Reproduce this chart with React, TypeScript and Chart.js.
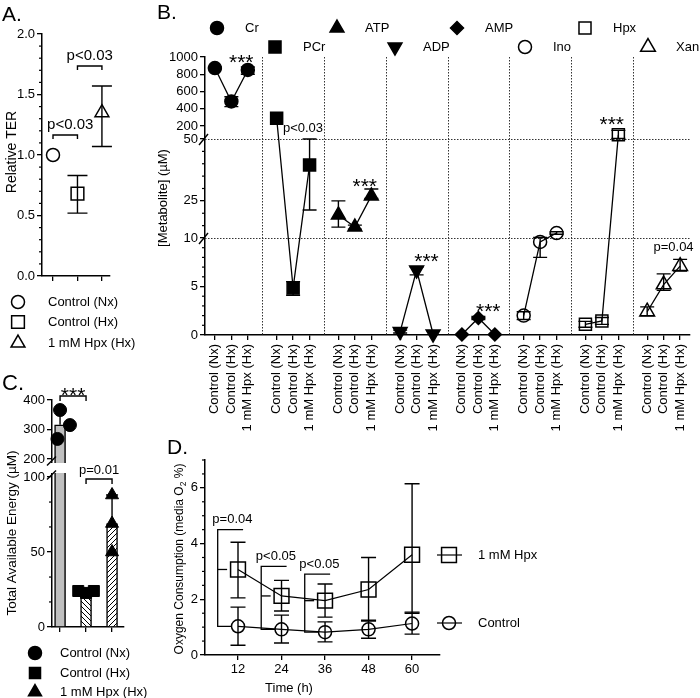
import React, { useEffect, useRef } from 'react';
import { Chart, registerables } from 'chart.js';
import { drawPoint } from 'chart.js/helpers';

Chart.register(...registerables);

const FONT = "'Liberation Sans', Arial, Helvetica, sans-serif";
Chart.defaults.font.family = FONT;
Chart.defaults.color = '#000';

const CW = 700;
const CH = 698;

// ================= DATA =================
// Panel A – relative TER
const A_GROUPS = ['Control (Nx)', 'Control (Hx)', '1 mM Hpx (Hx)'];
const A_MEAN = [1.0, 0.68, 1.35];
const A_LOW = [1.0, 0.52, 1.07];
const A_HIGH = [1.0, 0.83, 1.57];
const A_YTICKS = [0, 0.5, 1.0, 1.5, 2.0];
const A_YMINOR = [0.1, 0.2, 0.3, 0.4, 0.6, 0.7, 0.8, 0.9, 1.1, 1.2, 1.3, 1.4, 1.6, 1.7, 1.8, 1.9];
const A_SIG_TEXT = ['p<0.03', 'p<0.03'];
const A_SIG_PAIRS = [[0, 1], [1, 2]];
const A_SIG_LEVEL = [1.165, 1.735];

// Panel B – metabolites
const B_METABOLITES = ['Cr', 'PCr', 'ATP', 'ADP', 'AMP', 'Ino', 'Hpx', 'Xan'];
const B_CONDITIONS = ['Control (Nx)', 'Control (Hx)', '1 mM Hpx (Hx)'];
const B_MEAN = [
  [872, 485, 850],
  [290, 4.85, 39.5],
  [19.3, 14.4, 27.0],
  [0.35, 6.7, 0.1],
  [0.05, 1.75, 0.05],
  [2.0, 9.6, 12.0],
  [1.1, 1.45, 100],
  [2.4, 5.2, 7.1],
];
const B_LOW = [
  [860, 425, 800],
  [285, 4.1, 21.3],
  [14.4, 13.6, 26.0],
  [0.2, 6.2, 0.05],
  [0.02, 1.6, 0.02],
  [1.6, 8.0, 11.5],
  [0.8, 1.1, 55],
  [2.0, 4.6, 6.6],
];
const B_HIGH = [
  [885, 540, 885],
  [295, 5.5, 50],
  [25.0, 15.2, 29.8],
  [0.5, 7.0, 0.15],
  [0.08, 1.9, 0.08],
  [2.4, 10.2, 12.5],
  [1.4, 1.8, 150],
  [2.9, 6.3, 7.8],
];
const B_YTICKS = [0, 5, 10, 25, 50, 200, 400, 600, 800, 1000];
const B_YMINOR = [1, 2, 3, 4, 6, 7, 8, 9, 15, 20, 30, 35, 40, 45];
const B_SIG_TEXT = ['***', 'p<0.03', '***', '***', '***', '', '***', 'p=0.04'];

// Panel C – total available energy
const C_GROUPS = ['Control (Nx)', 'Control (Hx)', '1 mM Hpx (Hx)'];
const C_MEAN = [316, 23.6, 69];
const C_SD_HIGH = [366, 24.5, 88];
const C_NX_POINTS = [366, 315, 268];
const C_HX_POINTS = [24.0, 22.7, 24.0];
const C_HPX_POINTS = [88, 69, 50];
const C_YTICKS = [0, 50, 100, 200, 300, 400];
const C_YMINOR = [16.7, 33.3, 66.7, 83.3];
const C_SIG_TEXT = ['***', 'p=0.01'];
const C_SIG_PAIRS = [[0, 1], [1, 2]];

// Panel D – oxygen consumption
const D_SERIES = ['1 mM Hpx', 'Control'];
const D_TIMES = [12, 24, 36, 48, 60];
const D_HPX_MEAN = [3.07, 2.12, 1.95, 2.35, 3.6];
const D_HPX_LOW = [2.05, 1.58, 1.36, 1.22, 1.5];
const D_HPX_HIGH = [4.05, 2.68, 2.55, 3.5, 6.15];
const D_CTL_MEAN = [1.03, 0.92, 0.82, 0.92, 1.13];
const D_CTL_LOW = [0.35, 0.43, 0.47, 0.6, 0.75];
const D_CTL_HIGH = [1.72, 1.43, 1.19, 1.25, 1.54];
const D_YTICKS = [0, 2, 4, 6];
const D_YMINOR = [0.5, 1, 1.5, 2.5, 3, 3.5, 4.5, 5, 5.5, 6.5, 7];
const D_SIG_TIMES = [12, 24, 36];
const D_SIG_TEXT = ['p=0.04', 'p<0.05', 'p<0.05'];

// ================= LAYOUT HELPERS =================
// broken-axis display transforms
const bDisp = (v: number) => (v <= 10 ? v * 9.7 : v <= 50 ? 97 + (v - 10) * 2.475 : 196 + (v - 50) * (82 / 950));
const cDisp = (v: number) => (v <= 100 ? v * 1.5 : v < 200 ? 150 + (v - 100) * 0.18 : 168 + (v - 200) * 0.295);

const B_STEP = 3.75;
const B_LEG_X = [217, 275, 337, 395, 457, 525, 585, 648];
const B_SIG_Y = [278, 207, 154, 79, 29, 0, 216, 88];
const B_MARKS = [
  { s: 'circle', r: 6.5, f: true, rot: 0 },
  { s: 'rect', r: 8.5, f: true, rot: 0 },
  { s: 'triangle', r: 8, f: true, rot: 0 },
  { s: 'triangle', r: 8, f: true, rot: 180 },
  { s: 'rectRot', r: 6.5, f: true, rot: 0 },
  { s: 'circle', r: 6.5, f: false, rot: 0 },
  { s: 'rect', r: 8.5, f: false, rot: 0 },
  { s: 'triangle', r: 8.5, f: false, rot: 0 },
];

const COMMON: any = {
  responsive: false,
  animation: false,
  devicePixelRatio: 1,
  events: [],
  plugins: { legend: { display: false }, tooltip: { enabled: false }, title: { display: false } },
};

function layoutFor(a: any, yW: number, xH: number) {
  return { padding: { left: a.l - yW, top: a.t, right: CW - a.r, bottom: CH - a.b - xH } };
}
function fixW(w: number) {
  return (s: any) => {
    s.width = w;
    s.paddingTop = 0; s.paddingBottom = 0; s.paddingLeft = 0; s.paddingRight = 0;
  };
}
function fixH(h: number) {
  return (s: any) => {
    s.height = h;
    s.paddingTop = 0; s.paddingBottom = 0; s.paddingLeft = 0; s.paddingRight = 0;
  };
}
function gridOpts() {
  return { display: true, drawOnChartArea: false, drawTicks: true, offset: false, tickLength: 5, color: '#000', tickColor: '#000', tickWidth: 1.3, lineWidth: 1.3 };
}
function borderOpts() {
  return { display: true, color: '#000', width: 1.5 };
}
function yAxis(min: number, max: number, vals: number[], labels: string[], w: number) {
  return {
    type: 'linear', min, max, position: 'left',
    afterBuildTicks: (s: any) => { s.ticks = vals.map((v) => ({ value: v })); },
    afterFit: fixW(w),
    grid: gridOpts(),
    border: borderOpts(),
    ticks: { autoSkip: false, color: '#000', padding: 2, font: { family: FONT, size: 13 }, callback: (_v: any, i: number) => labels[i] ?? '' },
  };
}
function xAxis(min: number, max: number, vals: number[], labels: string[], h: number, rot = 0, pad = 2) {
  return {
    type: 'linear', min, max, position: 'bottom', offset: false,
    afterBuildTicks: (s: any) => { s.ticks = vals.map((v) => ({ value: v })); },
    afterFit: fixH(h),
    grid: gridOpts(),
    border: borderOpts(),
    ticks: { autoSkip: false, color: '#000', padding: pad, minRotation: rot, maxRotation: rot, font: { family: FONT, size: 13 }, callback: (_v: any, i: number) => labels[i] ?? '' },
  };
}

function text(ctx: any, s: string, x: number, y: number, size = 13, align = 'left', baseline = 'middle', rot = 0) {
  ctx.save();
  ctx.font = `${size}px ${FONT}`;
  ctx.fillStyle = '#000';
  ctx.textAlign = align;
  ctx.textBaseline = baseline;
  ctx.translate(x, y);
  if (rot) ctx.rotate(rot);
  ctx.fillText(s, 0, 0);
  ctx.restore();
}
function stars(ctx: any, x: number, yc: number, size = 21) {
  text(ctx, '***', x, yc + size * 0.58, size, 'center', 'alphabetic');
}
function panelTitle(ctx: any, s: string, x: number, baseY: number, size = 21) {
  text(ctx, s, x, baseY, size, 'left', 'alphabetic');
}
function mark(ctx: any, style: string, r: number, x: number, y: number, filled: boolean, rotation = 0) {
  ctx.save();
  ctx.fillStyle = filled ? '#000' : 'rgba(0,0,0,0)';
  ctx.strokeStyle = '#000';
  ctx.lineWidth = 1.5;
  drawPoint(ctx, { pointStyle: style, radius: r, rotation, borderWidth: 1.5 } as any, x, y);
  ctx.restore();
}
function seg(ctx: any, pts: number[][], w = 1.4) {
  ctx.save();
  ctx.strokeStyle = '#000';
  ctx.lineWidth = w;
  ctx.beginPath();
  pts.forEach((p, i) => (i ? ctx.lineTo(p[0], p[1]) : ctx.moveTo(p[0], p[1])));
  ctx.stroke();
  ctx.restore();
}
function bracket(ctx: any, x1: number, x2: number, y: number, leg: number) {
  seg(ctx, [[x1, y + leg], [x1, y], [x2, y], [x2, y + leg]], 1.4);
}
function minorY(chart: any, vals: number[], len = 3) {
  const { ctx, chartArea } = chart;
  const ys = chart.scales.y;
  ctx.save();
  ctx.strokeStyle = '#000';
  ctx.lineWidth = 1.2;
  vals.forEach((v) => {
    const py = ys.getPixelForValue(v);
    ctx.beginPath();
    ctx.moveTo(chartArea.left - len, py);
    ctx.lineTo(chartArea.left, py);
    ctx.stroke();
  });
  ctx.restore();
}
function hatch(canvas: HTMLCanvasElement, dir: string, gap: number) {
  const c = document.createElement('canvas');
  c.width = gap; c.height = gap;
  const g = c.getContext('2d')!;
  g.fillStyle = '#fff';
  g.fillRect(0, 0, gap, gap);
  g.strokeStyle = '#000';
  g.lineWidth = 1;
  g.beginPath();
  for (const o of [-gap, 0, gap]) {
    if (dir === '\\') { g.moveTo(o, 0); g.lineTo(o + gap, gap); }
    else { g.moveTo(o, gap); g.lineTo(o + gap, 0); }
  }
  g.stroke();
  return canvas.getContext('2d')!.createPattern(c, 'repeat');
}

const errorBars = {
  id: 'errorBars',
  afterDatasetDraw(chart: any, args: any) {
    const ds: any = chart.data.datasets[args.index];
    if (!ds.errLow || !ds.errHigh) return;
    const ctx = chart.ctx;
    const ys = chart.scales.y;
    ctx.save();
    ctx.strokeStyle = '#000';
    ctx.lineWidth = ds.errWidth || 1.4;
    args.meta.data.forEach((el: any, i: number) => {
      const lo = ds.errLow[i];
      const hi = ds.errHigh[i];
      if (lo == null || hi == null || lo === hi) return;
      const x = el.x;
      const c = ds.capHalf || 7;
      const pl = ys.getPixelForValue(lo);
      const ph = ys.getPixelForValue(hi);
      const pm = ys.getPixelForValue(ds.data[i].y);
      ctx.beginPath();
      ctx.moveTo(x, pl);
      ctx.lineTo(x, ph);
      if (Math.abs(pl - pm) > 0.5) { ctx.moveTo(x - c, pl); ctx.lineTo(x + c, pl); }
      if (Math.abs(ph - pm) > 0.5) { ctx.moveTo(x - c, ph); ctx.lineTo(x + c, ph); }
      ctx.stroke();
    });
    ctx.restore();
  },
};

// ================= PANEL A =================
function makeA() {
  const area = { l: 42, t: 34, r: 110, b: 276 };
  const xs = A_GROUPS.map((_, i) => i);
  const marks = [{ s: 'circle', r: 6.5 }, { s: 'rect', r: 9 }, { s: 'triangle', r: 8 }];
  const legY = [302, 322, 343];
  const sigDx = [5, 0];
  return {
    type: 'scatter',
    data: {
      datasets: A_GROUPS.map((g, i) => ({
        label: g,
        data: [{ x: xs[i], y: A_MEAN[i] }],
        errLow: [A_LOW[i]], errHigh: [A_HIGH[i]], capHalf: 10,
        pointStyle: marks[i].s, pointRadius: marks[i].r,
        pointBackgroundColor: 'rgba(0,0,0,0)', pointBorderColor: '#000', pointBorderWidth: 1.5,
        clip: false,
      })),
    },
    options: {
      ...COMMON,
      layout: layoutFor(area, 30, 10),
      scales: {
        x: xAxis(-0.45, 2.33, xs, [], 10),
        y: yAxis(0, 2, A_YTICKS, A_YTICKS.map((v) => v.toFixed(1)), 30),
      },
    },
    plugins: [errorBars, {
      id: 'panelA',
      afterDraw(chart: any) {
        const { ctx } = chart;
        const { x, y } = chart.scales;
        minorY(chart, A_YMINOR);
        panelTitle(ctx, 'A.', 2, 21);
        text(ctx, 'Relative TER', 12, 152, 14, 'center', 'middle', -Math.PI / 2);
        A_SIG_PAIRS.forEach(([a, b], k) => {
          const x1 = x.getPixelForValue(a);
          const x2 = x.getPixelForValue(b);
          const py = y.getPixelForValue(A_SIG_LEVEL[k]);
          bracket(ctx, x1, x2, py, 4);
          text(ctx, A_SIG_TEXT[k], (x1 + x2) / 2 + sigDx[k], py - 10, 15, 'center');
        });
        A_GROUPS.forEach((g, i) => {
          mark(ctx, marks[i].s, marks[i].r, 18, legY[i], false);
          text(ctx, g, 48, legY[i], 13);
        });
      },
    }],
  };
}

// ================= PANEL B =================
function makeB() {
  const area = { l: 205, t: 57, r: 697, b: 335 };
  const xTicks: number[] = [];
  const xLabels: string[] = [];
  B_METABOLITES.forEach((_, g) => B_CONDITIONS.forEach((c, i) => { xTicks.push(g * B_STEP + i); xLabels.push(c); }));
  const datasets = B_METABOLITES.map((m, g) => ({
    label: m,
    data: B_MEAN[g].map((v, i) => ({ x: g * B_STEP + i, y: bDisp(v) })),
    errLow: B_LOW[g].map(bDisp), errHigh: B_HIGH[g].map(bDisp), capHalf: 7,
    showLine: true, borderColor: '#000', borderWidth: 1.3,
    pointStyle: B_MARKS[g].s, pointRadius: B_MARKS[g].r, pointRotation: B_MARKS[g].rot,
    pointBackgroundColor: B_MARKS[g].f ? '#000' : 'rgba(0,0,0,0)', pointBorderColor: '#000', pointBorderWidth: 1.5,
    clip: false,
  }));
  return {
    type: 'scatter',
    data: { datasets },
    options: {
      ...COMMON,
      layout: layoutFor(area, 40, 110),
      scales: {
        x: xAxis(-0.6, 7 * B_STEP + 2.6, xTicks, xLabels, 110, 90, 4),
        y: yAxis(0, bDisp(1000), B_YTICKS.map(bDisp), B_YTICKS.map(String), 40),
      },
    },
    plugins: [errorBars, {
      id: 'panelB',
      beforeDatasetsDraw(chart: any) {
        const { ctx, chartArea: ca } = chart;
        const { x, y } = chart.scales;
        ctx.save();
        ctx.strokeStyle = '#333';
        ctx.lineWidth = 1;
        ctx.setLineDash([1.5, 1.5]);
        for (let g = 0; g < B_METABOLITES.length - 1; g++) {
          const px = Math.round(x.getPixelForValue(g * B_STEP + 2.875)) + 0.5;
          ctx.beginPath(); ctx.moveTo(px, ca.top); ctx.lineTo(px, ca.bottom); ctx.stroke();
        }
        [50, 10].forEach((v) => {
          const py = Math.round(y.getPixelForValue(bDisp(v))) + 0.5;
          ctx.beginPath(); ctx.moveTo(ca.left, py); ctx.lineTo(ca.right, py); ctx.stroke();
        });
        ctx.restore();
      },
      afterDraw(chart: any) {
        const { ctx, chartArea: ca } = chart;
        const { x, y } = chart.scales;
        minorY(chart, B_YMINOR.map(bDisp));
        [50, 10].forEach((v) => {
          const py = y.getPixelForValue(bDisp(v));
          seg(ctx, [[ca.left - 6, py + 6], [ca.left + 3, py - 5]], 1.4);
        });
        panelTitle(ctx, 'B.', 157, 19, 21);
        text(ctx, '[Metabolite] (µM)', 163, 198, 13, 'center', 'middle', -Math.PI / 2);
        B_METABOLITES.forEach((m, g) => {
          const yy = g % 2 ? 47 : 28;
          const mk = B_MARKS[g];
          mark(ctx, mk.s, mk.r, B_LEG_X[g], yy, mk.f, mk.rot);
          text(ctx, m, B_LEG_X[g] + 28, yy, 13);
        });
        B_SIG_TEXT.forEach((s, g) => {
          if (!s) return;
          const px = x.getPixelForValue(g * B_STEP + 1.6);
          const py = y.getPixelForValue(B_SIG_Y[g]);
          if (s === '***') stars(ctx, px, py);
          else text(ctx, s, px, py, 13, 'center');
        });
      },
    }],
  };
}

// ================= PANEL C =================
function makeC(canvas: HTMLCanvasElement) {
  const area = { l: 52, t: 400, r: 124, b: 627 };
  const xs = C_GROUPS.map((_, i) => i);
  const bg = ['#bfbfbf', hatch(canvas, '\\', 5), hatch(canvas, '/', 5)];
  const pointSets = [C_NX_POINTS, C_HX_POINTS, C_HPX_POINTS];
  const jitter = [[0, 0.38, -0.1], [-0.3, 0, 0.3], [0, 0, 0]];
  const marks = [{ s: 'circle', r: 6.5 }, { s: 'rect', r: 7.8 }, { s: 'triangle', r: 7.5 }];
  const legY = [653, 673, 692];
  const sigLevel = [231, 148];
  return {
    type: 'bar',
    data: {
      datasets: [
        ...pointSets.map((pts, g) => ({
          type: 'scatter',
          label: C_GROUPS[g],
          data: pts.map((v, j) => ({ x: xs[g] + jitter[g][j], y: cDisp(v) })),
          pointStyle: marks[g].s, pointRadius: marks[g].r,
          pointBackgroundColor: '#000', pointBorderColor: '#000', pointBorderWidth: 1,
          order: 1, clip: false,
        })),
        {
          type: 'bar',
          label: 'mean',
          data: C_MEAN.map((v, i) => ({ x: xs[i], y: cDisp(v) })),
          backgroundColor: bg, borderColor: '#000', borderWidth: 1.5, barThickness: 11,
          errLow: C_MEAN.map(cDisp), errHigh: C_SD_HIGH.map(cDisp), capHalf: 6,
          order: 5,
        },
      ],
    },
    options: {
      ...COMMON,
      layout: layoutFor(area, 40, 10),
      scales: {
        x: xAxis(-0.31, 2.46, xs, [], 10),
        y: yAxis(0, cDisp(400), C_YTICKS.map(cDisp), C_YTICKS.map(String), 40),
      },
    },
    plugins: [errorBars, {
      id: 'panelC',
      afterDraw(chart: any) {
        const { ctx, chartArea: ca } = chart;
        const { x, y } = chart.scales;
        const yTop = y.getPixelForValue(cDisp(200));
        const yBot = y.getPixelForValue(cDisp(100));
        ctx.save();
        ctx.fillStyle = '#fff';
        ctx.fillRect(ca.left - 8, yTop + 4, 26, yBot - yTop - 8);
        ctx.restore();
        [yTop + 2, yBot - 2].forEach((py) => seg(ctx, [[ca.left - 5, py + 4.5], [ca.left + 4, py - 4.5]], 1.4));
        minorY(chart, C_YMINOR.map(cDisp));
        panelTitle(ctx, 'C.', 2, 390, 22);
        text(ctx, 'Total Available Energy (µM)', 12, 533, 13.5, 'center', 'middle', -Math.PI / 2);
        C_SIG_PAIRS.forEach(([a, b], k) => {
          const x1 = x.getPixelForValue(a);
          const x2 = x.getPixelForValue(b);
          const py = y.getPixelForValue(sigLevel[k]);
          bracket(ctx, x1, x2, py, 5);
          if (C_SIG_TEXT[k] === '***') stars(ctx, (x1 + x2) / 2, py - 6);
          else text(ctx, C_SIG_TEXT[k], (x1 + x2) / 2, py - 9, 13, 'center');
        });
        C_GROUPS.forEach((g, i) => {
          mark(ctx, marks[i].s, marks[i].r, 35, legY[i], true);
          text(ctx, g, 60, legY[i], 13);
        });
      },
    }],
  };
}

// ================= PANEL D =================
function makeD() {
  const area = { l: 205, t: 460, r: 440, b: 655 };
  const sigTop = [4.5, 3.18, 2.9];
  const legY = [555, 623];
  const marks = [{ s: 'rect', r: 10.5 }, { s: 'circle', r: 6.5 }];
  const means = [D_HPX_MEAN, D_CTL_MEAN];
  const lows = [D_HPX_LOW, D_CTL_LOW];
  const highs = [D_HPX_HIGH, D_CTL_HIGH];
  return {
    type: 'scatter',
    data: {
      datasets: D_SERIES.map((s, k) => ({
        label: s,
        data: D_TIMES.map((t, i) => ({ x: t, y: means[k][i] })),
        errLow: lows[k], errHigh: highs[k], capHalf: 7.5,
        showLine: true, borderColor: '#000', borderWidth: 1.2,
        pointStyle: marks[k].s, pointRadius: marks[k].r,
        pointBackgroundColor: 'rgba(0,0,0,0)', pointBorderColor: '#000', pointBorderWidth: 1.5,
        clip: false,
      })),
    },
    options: {
      ...COMMON,
      layout: layoutFor(area, 20, 20),
      scales: {
        x: xAxis(2.9, 67.7, D_TIMES, D_TIMES.map(String), 20),
        y: yAxis(0, 7, D_YTICKS, D_YTICKS.map(String), 20),
      },
    },
    plugins: [errorBars, {
      id: 'panelD',
      afterDraw(chart: any) {
        const { ctx } = chart;
        const { x, y } = chart.scales;
        minorY(chart, D_YMINOR);
        panelTitle(ctx, 'D.', 167, 454, 21);
        // y title with subscript
        const parts: any[] = [['Oxygen Consumption (media O', 12, 0], ['2', 8.5, 3.5], [' %)', 12, 0]];
        ctx.save();
        ctx.translate(180, 559);
        ctx.rotate(-Math.PI / 2);
        ctx.fillStyle = '#000';
        ctx.textBaseline = 'middle';
        ctx.textAlign = 'left';
        let total = 0;
        parts.forEach(([s, sz]) => { ctx.font = `${sz}px ${FONT}`; total += ctx.measureText(s).width; });
        let xx = -total / 2;
        parts.forEach(([s, sz, dy]) => { ctx.font = `${sz}px ${FONT}`; ctx.fillText(s, xx, dy); xx += ctx.measureText(s).width; });
        ctx.restore();
        text(ctx, 'Time (h)', 289, 688, 13, 'center');
        D_SIG_TIMES.forEach((t, k) => {
          const i = D_TIMES.indexOf(t);
          const xv = x.getPixelForValue(t - 5.6);
          const xTop = x.getPixelForValue(t + 1.4);
          const yTop = y.getPixelForValue(sigTop[k]);
          const yH = y.getPixelForValue(D_HPX_MEAN[i]);
          const yC = y.getPixelForValue(D_CTL_MEAN[i]);
          seg(ctx, [[xTop, yTop], [xv, yTop], [xv, yC], [x.getPixelForValue(t - 1.8), yC]], 1.3);
          seg(ctx, [[xv, yH], [x.getPixelForValue(t - 3), yH]], 1.3);
          text(ctx, D_SIG_TEXT[k], (xv + xTop) / 2 + 2, yTop - 10, 13, 'center');
        });
        D_SERIES.forEach((s, k) => {
          seg(ctx, [[437, legY[k]], [462, legY[k]]], 1.2);
          mark(ctx, marks[k].s, marks[k].r, 449, legY[k], false);
          text(ctx, s, 478, legY[k], 13);
        });
      },
    }],
  };
}

function ChartCanvas({ make }: { make: (c: HTMLCanvasElement) => any }) {
  const ref = useRef<HTMLCanvasElement>(null);
  useEffect(() => {
    const canvas = ref.current!;
    const ch = new Chart(canvas, make(canvas));
    return () => ch.destroy();
  }, []);
  return (
    <canvas
      ref={ref}
      width={CW}
      height={CH}
      style={{ position: 'absolute', left: 0, top: 0, width: CW, height: CH }}
    />
  );
}

export default function App() {
  return (
    <div style={{ position: 'absolute', left: 0, top: 0, width: CW, height: CH, background: '#fff', overflow: 'hidden' }}>
      <ChartCanvas make={makeA} />
      <ChartCanvas make={makeB} />
      <ChartCanvas make={makeC} />
      <ChartCanvas make={makeD} />
    </div>
  );
}
